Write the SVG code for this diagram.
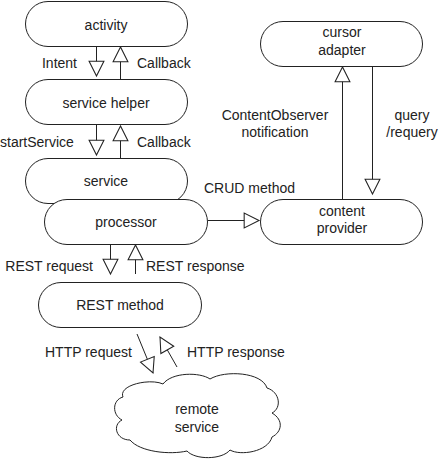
<svg xmlns="http://www.w3.org/2000/svg" width="440" height="459" viewBox="0 0 440 459">
<defs>
<style>
.n{fill:#fff;stroke:#222;stroke-width:1}
.t{font-family:"Liberation Sans",Arial,sans-serif;font-size:14px;fill:#222}
.c{text-anchor:middle}
.e{text-anchor:end}
.l{fill:none;stroke:#222;stroke-width:1;marker-end:url(#h)}
</style>
<marker id="h" markerUnits="userSpaceOnUse" markerWidth="18" markerHeight="18" viewBox="-15 -8 17 16" refX="0" refY="0" orient="auto">
<path d="M0,0 L-14,-7 L-14,7 Z" fill="#fff" stroke="#222" stroke-width="1"/>
</marker>
</defs>
<g id="connectors">
<line class="l" x1="96.5" y1="46" x2="96.5" y2="76"/>
<line class="l" x1="120.5" y1="79" x2="120.5" y2="47"/>
<line class="l" x1="96.5" y1="125" x2="96.5" y2="155"/>
<line class="l" x1="120.5" y1="158" x2="120.5" y2="126"/>
<line class="l" x1="110.5" y1="244" x2="110.5" y2="274"/>
<line class="l" x1="135.5" y1="274" x2="135.5" y2="245"/>
<line class="l" x1="137" y1="334" x2="153" y2="373"/>
<line class="l" x1="177" y1="367" x2="160" y2="337"/>
<line class="l" x1="208" y1="220.5" x2="259" y2="220.5"/>
<line class="l" x1="342.5" y1="199" x2="342.5" y2="67"/>
<line class="l" x1="372.5" y1="66" x2="372.5" y2="194"/>
</g>
<g id="activity"><rect class="n" x="25.5" y="1.5" width="162" height="45" rx="22.5"/><text class="t c" x="106" y="30">activity</text></g>
<g id="service-helper"><rect class="n" x="25.5" y="79.5" width="162" height="45" rx="22.5"/><text class="t c" x="106" y="108">service helper</text></g>
<g id="service"><rect class="n" x="25.5" y="158.5" width="162" height="45" rx="22.5"/><text class="t c" x="106" y="186">service</text></g>
<g id="processor"><rect class="n" x="44.5" y="199.5" width="163" height="45" rx="22.5"/><text class="t c" x="126" y="227">processor</text></g>
<g id="rest-method"><rect class="n" x="38.5" y="282.5" width="163" height="45" rx="22.5"/><text class="t c" x="120" y="310">REST method</text></g>
<g id="cursor-adapter"><rect class="n" x="260.5" y="21.5" width="162" height="45" rx="22.5"/><text class="t c" x="342" y="37">cursor</text><text class="t c" x="342" y="55">adapter</text></g>
<g id="content-provider"><rect class="n" x="260.5" y="199.5" width="162" height="45" rx="22.5"/><text class="t c" x="342" y="216">content</text><text class="t c" x="342" y="233">provider</text></g>
<g id="remote-service"><path class="n" d="M123,397 C118,385 150,378 163,384 C172,372 200,372 210,379 C225,370 262,372 267,388 C280,392 282,408 272,413 C284,420 282,432 272,437 C268,452 240,456 230,450 C222,460 195,460 187,451 C170,455 140,452 130,440 C116,440 112,425 122,420 C112,415 112,400 123,397 Z"/><text class="t c" x="197" y="414">remote</text><text class="t c" x="197" y="432">service</text></g>
<g id="labels">
<text class="t e" x="77" y="68">Intent</text>
<text class="t" x="137" y="68">Callback</text>
<text class="t" x="0" y="147">startService</text>
<text class="t" x="137" y="147">Callback</text>
<text class="t" x="204" y="193">CRUD method</text>
<text class="t e" x="93" y="271">REST request</text>
<text class="t" x="146" y="271">REST response</text>
<text class="t" x="45" y="357">HTTP request</text>
<text class="t" x="187" y="357">HTTP response</text>
<text class="t c" x="275" y="120">ContentObserver</text>
<text class="t c" x="275" y="137">notification</text>
<text class="t c" x="412" y="120">query</text>
<text class="t c" x="412" y="137">/requery</text>
</g>
</svg>
